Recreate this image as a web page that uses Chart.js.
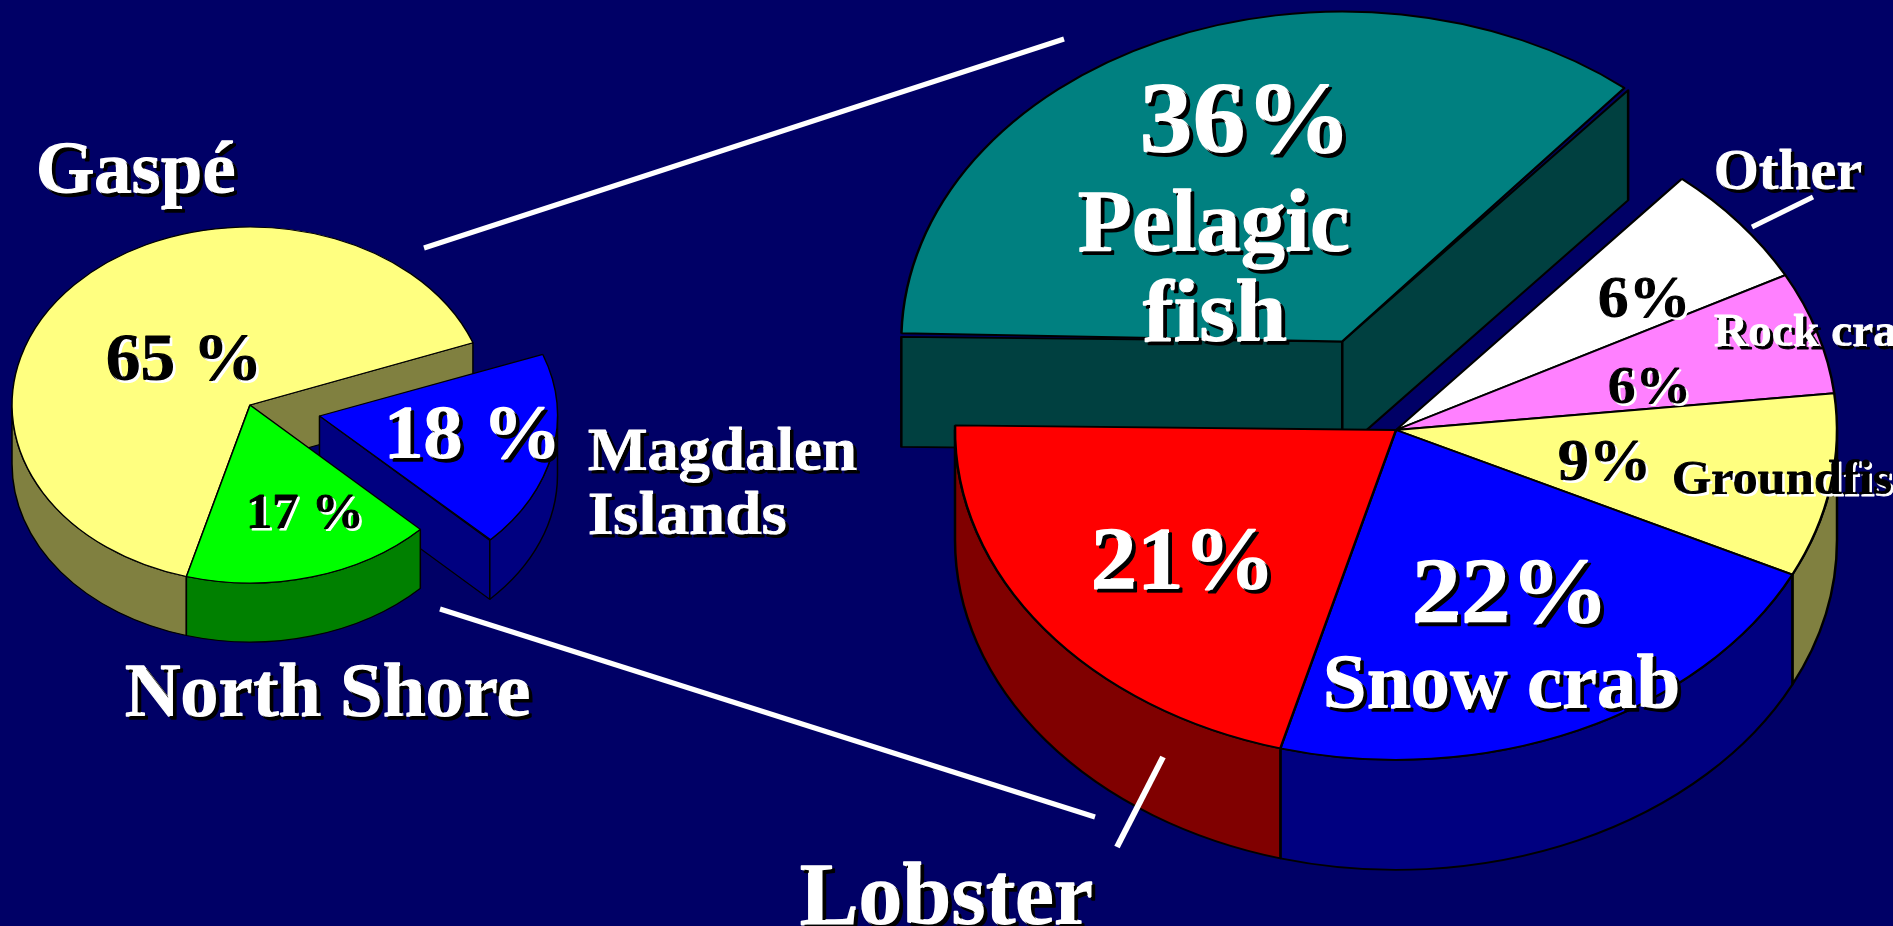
<!DOCTYPE html>
<html>
<head>
<meta charset="utf-8">
<title>Landings by region and species</title>
<script src="https://cdn.jsdelivr.net/npm/chart.js"></script>
<style>
  html, body { margin: 0; padding: 0; width: 1893px; height: 926px; overflow: hidden; background: #000066; }
  canvas { position: absolute; left: 0; top: 0; }
</style>
</head>
<body>
<canvas id="regionPie" width="1893" height="926"></canvas>
<canvas id="speciesPie" width="1893" height="926"></canvas>
<script>
const regionNames = ['Gaspé', 'Magdalen Islands', 'North Shore'];
const regionValues = [65, 18, 17];
const regionColors = ['#FFFF80', '#0000FF', '#00FF00'];
const regionSides = ['#808040', '#000080', '#008000'];
const regionExplode = [0, 71, 0];

const speciesNames = ['Pelagic fish', 'Other', 'Rock crab', 'Groundfish', 'Snow crab', 'Lobster'];
const speciesValues = [36, 6, 6, 9, 22, 21];
const speciesColors = ['#008080', '#FFFFFF', '#FF80FF', '#FFFF80', '#0000FF', '#FF0000'];
const speciesSides = ['#004040', '#808080', '#804080', '#808040', '#000080', '#800000'];
const speciesExplode = [130, 0, 0, 0, 0, 0];

const SERIF = '"Liberation Serif", serif';
const WHITE = ['#FFFFFF', '#000000', 3];
const BLACK = ['#000000', '#FFFFFF', 2];

// text, x, baseline y, font px, colours, horizontal stretch
const regionLabels = [
  ['Gaspé', 36, 193, 75, WHITE, 1],
  [regionValues[0] + ' %', 106, 380, 67, BLACK, 1.04],
  [regionValues[1] + ' %', 384, 458, 76, WHITE, 1.04],
  [regionValues[2] + ' %', 246, 528, 50, BLACK, 1.05],
  ['Magdalen', 588, 470, 62, WHITE, 1.015],
  ['Islands', 588, 534, 62, WHITE, 1.05],
  ['North Shore', 125, 716, 76, WHITE, 1.01]
];
const speciesLabels = [
  [speciesValues[0] + '%', 1140, 153, 101, WHITE, 1.05],
  ['Pelagic', 1078, 251, 89, WHITE, 1],
  ['fish', 1143, 341, 89, WHITE, 1.04],
  ['Other', 1714, 189, 58, WHITE, 1],
  [speciesValues[1] + '%', 1598, 317, 59, BLACK, 1.05],
  ['Rock crab', 1714, 346, 46, WHITE, 1.03],
  [speciesValues[2] + '%', 1608, 403, 53, BLACK, 1.05],
  [speciesValues[3] + '%', 1558, 480, 60, BLACK, 1.04],
  ['Groundfish', 1672, 494, 48, BLACK, 1.05],
  [speciesValues[4] + '%', 1412, 622, 94, WHITE, 1.05],
  ['Snow crab', 1323, 708, 79, WHITE, 1],
  [speciesValues[5] + '%', 1091, 588, 88, WHITE, 1.05],
  ['Lobster', 800, 924, 88, WHITE, 1]
];

// white connector strokes: x1, y1, x2, y2, width
const leaders = [
  [424, 248, 1064, 39, 5],
  [440, 609, 1095, 817, 5],
  [1163, 757, 1117, 847, 6],
  [1813, 197, 1752, 227, 5]
];

const FLATTEN = 0.748;

function sideFaces(ctx, arcs, explode, sides, depth) {
  const drop = depth / FLATTEN;
  arcs.forEach((arc, i) => {
    const off = explode[i];
    const mid = (arc.startAngle + arc.endAngle) / 2;
    const cx = arc.x + Math.cos(mid) * off;
    const cy = arc.y + Math.sin(mid) * off;
    const R = arc.outerRadius + off * (1 - Math.sin(Math.min(Math.PI, arc.circumference)));
    ctx.fillStyle = sides[i];

    const wall = (a) => {
      ctx.beginPath();
      ctx.moveTo(cx, cy);
      ctx.lineTo(cx + Math.cos(a) * R, cy + Math.sin(a) * R);
      ctx.lineTo(cx + Math.cos(a) * R, cy + Math.sin(a) * R + drop);
      ctx.lineTo(cx, cy + drop);
      ctx.closePath();
      ctx.fill();
      ctx.stroke();
    };
    const n = arcs.length;
    if (Math.cos(arc.startAngle) < 0 && (off || explode[(i + n - 1) % n])) wall(arc.startAngle);
    if (Math.cos(arc.endAngle) > 0 && (off || explode[(i + 1) % n])) wall(arc.endAngle);

    // rim, only the part that faces the viewer
    for (let turn = -1; turn <= 1; turn++) {
      const a0 = Math.max(arc.startAngle + turn * 2 * Math.PI, 0);
      const a1 = Math.min(arc.endAngle + turn * 2 * Math.PI, Math.PI);
      if (a1 <= a0) continue;
      ctx.beginPath();
      ctx.arc(cx, cy, R, a0, a1);
      ctx.arc(cx, cy + drop, R, a1, a0, true);
      ctx.closePath();
      ctx.fill();
      ctx.stroke();
    }
  });
}

function makePie(id, names, values, colors, sides, explode, cfg) {
  const W = 1893, H = 926;
  const pie3d = {
    id: 'pie3d',
    afterDatasetsUpdate(chart) {
      // Chart.js grows an offset arc's radius, undo that so every slice has the same radius
      chart.getDatasetMeta(0).data.forEach((arc, i) => {
        const fix = 1 - Math.sin(Math.min(Math.PI, arc.circumference));
        arc.outerRadius = cfg.radius - explode[i] * fix;
      });
    },
    beforeDatasetsDraw(chart) {
      const ctx = chart.ctx;
      ctx.save();
      ctx.translate(cfg.cx, cfg.cy);
      ctx.scale(1, FLATTEN);
      ctx.translate(-cfg.cx, -cfg.cy);
      ctx.strokeStyle = '#000000';
      ctx.lineWidth = cfg.line;
      ctx.lineJoin = 'round';
      sideFaces(ctx, chart.getDatasetMeta(0).data, explode, sides, cfg.depth);
    },
    afterDatasetsDraw(chart) {
      chart.ctx.restore();
    },
    afterDraw(chart) {
      const ctx = chart.ctx;
      ctx.save();
      ctx.strokeStyle = '#FFFFFF';
      (cfg.leaders || []).forEach(l => {
        ctx.lineWidth = l[4];
        ctx.beginPath();
        ctx.moveTo(l[0], l[1]);
        ctx.lineTo(l[2], l[3]);
        ctx.stroke();
      });
      ctx.textBaseline = 'alphabetic';
      ctx.lineJoin = 'round';
      cfg.labels.forEach(t => {
        ctx.save();
        ctx.font = 'bold ' + t[3] + 'px ' + SERIF;
        ctx.fillStyle = t[4][0];
        ctx.strokeStyle = t[4][0];
        ctx.lineWidth = t[3] * 0.018;
        ctx.shadowColor = t[4][1];
        ctx.shadowOffsetX = t[4][2];
        ctx.shadowOffsetY = t[4][2];
        ctx.shadowBlur = 0;
        ctx.translate(t[1], t[2]);
        ctx.scale(t[5], 1);
        ctx.strokeText(t[0], 0, 0);
        ctx.fillText(t[0], 0, 0);
        ctx.restore();
      });
      ctx.restore();
    }
  };
  return new Chart(document.getElementById(id), {
    type: 'pie',
    data: {
      labels: names,
      datasets: [{
        data: values,
        backgroundColor: colors,
        borderColor: '#000000',
        borderWidth: cfg.line,
        offset: explode.map(v => v * 4),
        clip: false
      }]
    },
    options: {
      responsive: false,
      animation: false,
      events: [],
      radius: cfg.radius,
      rotation: cfg.rotation,
      layout: {
        padding: {
          left: Math.max(2 * cfg.cx - W, 0),
          right: Math.max(W - 2 * cfg.cx, 0),
          top: Math.max(2 * cfg.cy - H, 0),
          bottom: Math.max(H - 2 * cfg.cy, 0)
        }
      },
      plugins: { legend: { display: false }, tooltip: { enabled: false } }
    },
    plugins: [pie3d]
  });
}

makePie('regionPie', regionNames, regionValues, regionColors, regionSides, regionExplode, {
  cx: 250, cy: 405, radius: 238, depth: 59, rotation: 195.5, line: 1.5, labels: regionLabels
});
makePie('speciesPie', speciesNames, speciesValues, speciesColors, speciesSides, speciesExplode, {
  cx: 1396, cy: 430, radius: 441, depth: 110, rotation: 270.8, line: 2.5, labels: speciesLabels, leaders: leaders
});
</script>
</body>
</html>
